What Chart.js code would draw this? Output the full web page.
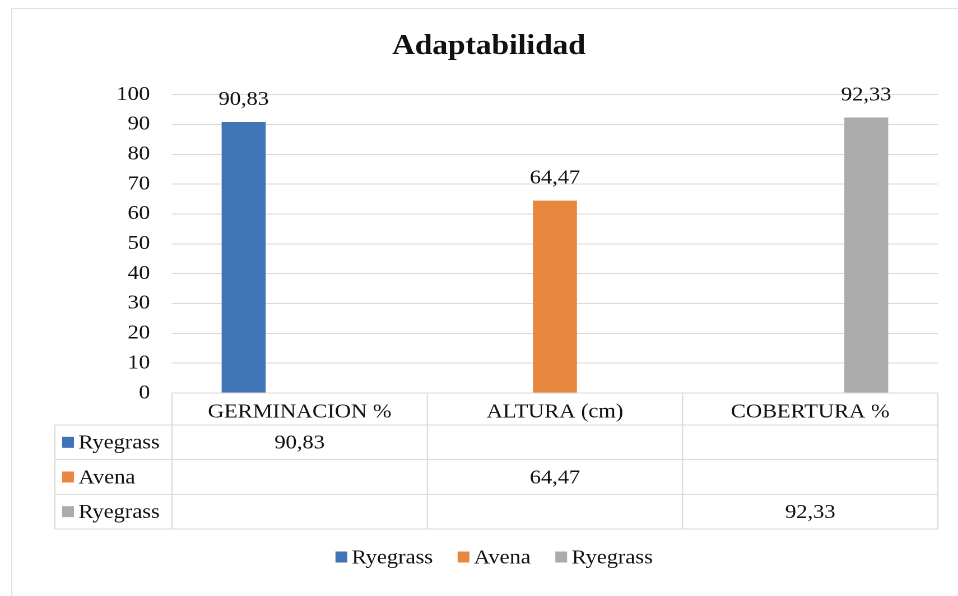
<!DOCTYPE html>
<html>
<head>
<meta charset="utf-8">
<script src="https://cdn.jsdelivr.net/npm/chart.js@4.4.0/dist/chart.umd.min.js"></script>
<style>
    html, body { margin: 0; padding: 0; background: #fff; overflow: hidden; }
    /* the scanned original is stretched horizontally, so the chart is too */
    #wrap { width: 855px; height: 596px; transform: scaleX(1.1205); transform-origin: 0 0; }
</style>
</head>
<body>
<div id="wrap"><canvas id="chart" width="855" height="596"></canvas></div>
<script>
const categories = ['GERMINACION %', 'ALTURA (cm)', 'COBERTURA %'];
const seriesNames = ['Ryegrass', 'Avena', 'Ryegrass'];
const ryegrassGerminacion = [90.83, null, null];
const avenaAltura = [null, 64.47, null];
const ryegrassCobertura = [null, null, 92.33];
const seriesColors = ['#3f74b6', '#e8873f', '#ababab'];
const yMin = 0, yMax = 100, yStep = 10;

const FONT = 'Liberation Serif, Times New Roman, serif';
const LINE = '#d9d9d9';

function fmt(v) {
    return v.toFixed(2).replace('.', ',');
}

// light frame round the whole chart
const framePlugin = {
    id: 'frame',
    beforeDraw(chart) {
        const ctx = chart.ctx;
        ctx.save();
        ctx.fillStyle = '#fff';
        ctx.fillRect(0, 0, chart.width, chart.height);
        ctx.strokeStyle = '#e2e2e2';
        ctx.lineWidth = 1;
        ctx.strokeRect(10.5, 8.5, chart.width + 20, chart.height + 20);
        ctx.restore();
    }
};

// values above the bars
const barLabels = {
    id: 'barLabels',
    afterDatasetsDraw(chart) {
        const ctx = chart.ctx;
        ctx.save();
        ctx.font = `20px ${FONT}`;
        ctx.fillStyle = '#111';
        ctx.textAlign = 'center';
        ctx.textBaseline = 'alphabetic';
        chart.data.datasets.forEach((ds, i) => {
            chart.getDatasetMeta(i).data.forEach((bar, j) => {
                const v = ds.data[j];
                if (v === null) return;
                ctx.fillText(fmt(v), bar.x, bar.y - 17);
            });
        });
        ctx.restore();
    }
};

// data table under the axis, and the legend under it
const dataTable = {
    id: 'dataTable',
    afterDraw(chart) {
        const ctx = chart.ctx;
        const x = chart.scales.x;
        const top = x.top;
        const bottom = x.bottom;
        const tableLeft = 49;
        const headerH = 32;
        const rowH = (bottom - top - headerH) / 3;
        const cw = (x.right - x.left) / categories.length;
        const bounds = [];
        for (let i = 0; i <= categories.length; i++) bounds.push(x.left + cw * i);

        ctx.save();
        ctx.strokeStyle = LINE;
        ctx.lineWidth = 1;
        ctx.beginPath();
        ctx.moveTo(x.left, top);
        ctx.lineTo(x.right, top);
        for (let r = 0; r <= 3; r++) {
            const y = top + headerH + rowH * r;
            ctx.moveTo(tableLeft, y);
            ctx.lineTo(x.right, y);
        }
        ctx.moveTo(tableLeft, top + headerH);
        ctx.lineTo(tableLeft, bottom);
        bounds.forEach(bx => {
            ctx.moveTo(bx, top);
            ctx.lineTo(bx, bottom);
        });
        ctx.stroke();

        ctx.font = `20px ${FONT}`;
        ctx.textBaseline = 'middle';
        chart.data.datasets.forEach((ds, r) => {
            const cy = top + headerH + rowH * r + rowH / 2;
            ctx.fillStyle = ds.backgroundColor;
            ctx.fillRect(tableLeft + 6.5, cy - 5.5, 10.5, 11);
            ctx.fillStyle = '#111';
            ctx.textAlign = 'left';
            ctx.fillText(ds.label, tableLeft + 21, cy + 1);
            ctx.textAlign = 'center';
            ds.data.forEach((v, c) => {
                if (v === null) return;
                ctx.fillText(fmt(v), (bounds[c] + bounds[c + 1]) / 2, cy + 1);
            });
        });

        // legend
        const items = chart.data.datasets.map(ds => ({
            label: ds.label,
            color: ds.backgroundColor,
            w: 10.5 + 4 + ctx.measureText(ds.label).width
        }));
        const spacing = 22;
        const total = items.reduce((s, it) => s + it.w, 0) + spacing * (items.length - 1);
        let lx = 441 - total / 2;
        const ly = 557;
        ctx.textAlign = 'left';
        items.forEach(it => {
            ctx.fillStyle = it.color;
            ctx.fillRect(lx, ly - 5.5, 10.5, 11);
            ctx.fillStyle = '#111';
            ctx.fillText(it.label, lx + 14.5, ly + 1);
            lx += it.w + spacing;
        });
        ctx.restore();
    }
};

const seriesData = [ryegrassGerminacion, avenaAltura, ryegrassCobertura];

new Chart(document.getElementById('chart'), {
    type: 'bar',
    data: {
        labels: categories,
        datasets: seriesData.map((d, i) => ({
            label: seriesNames[i],
            data: d,
            backgroundColor: seriesColors[i],
            borderWidth: 0,
            categoryPercentage: 0.658,
            barPercentage: 0.786
        }))
    },
    options: {
        responsive: false,
        animation: false,
        devicePixelRatio: 2,
        layout: {
            padding: { left: 35.7, right: 18, top: 0, bottom: 67 }
        },
        scales: {
            x: {
                grid: { display: false },
                border: { display: false },
                ticks: {
                    color: '#111',
                    font: { family: FONT, size: 20 },
                    padding: -1,
                    maxRotation: 0
                },
                afterFit(scale) { scale.height = 136; }
            },
            y: {
                min: yMin,
                max: yMax,
                grid: { color: LINE, drawTicks: false },
                border: { display: false },
                ticks: {
                    stepSize: yStep,
                    color: '#111',
                    font: { family: FONT, size: 20 },
                    padding: 19.6
                },
                afterFit(scale) { scale.width = 117.8; }
            }
        },
        plugins: {
            legend: { display: false },
            tooltip: { enabled: false },
            title: {
                display: true,
                text: 'Adaptabilidad',
                color: '#111',
                font: { family: FONT, size: 28, weight: 'bold' },
                padding: { top: 30, bottom: 31 }
            }
        }
    },
    plugins: [framePlugin, barLabels, dataTable]
});
</script>
</body>
</html>
